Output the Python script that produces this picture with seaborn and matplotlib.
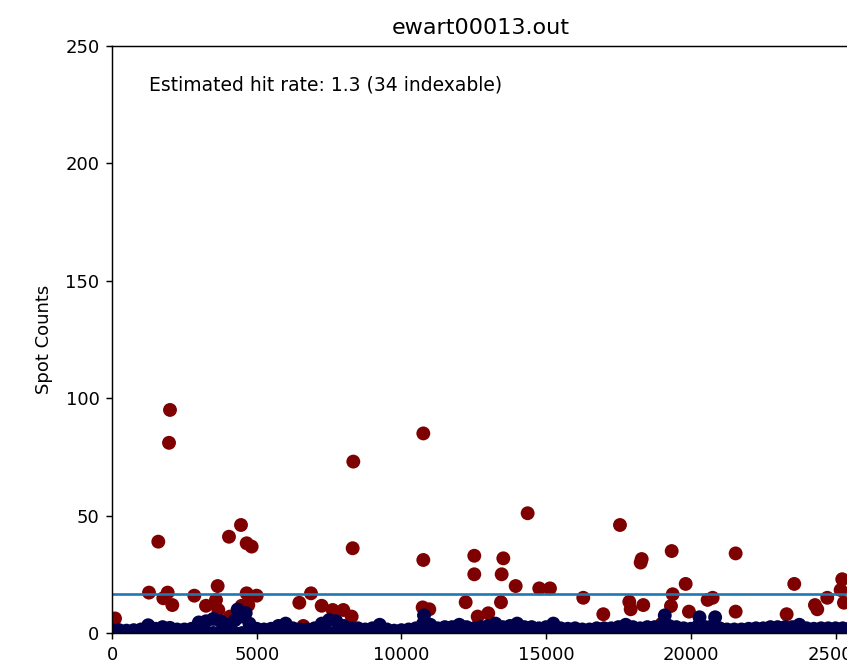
import matplotlib
matplotlib.use("Agg")
import matplotlib.pyplot as plt
import seaborn as sns
import pandas as pd

# ---- data ----
title = "ewart00013.out"
ylabel = "Spot Counts"
note = "Estimated hit rate: 1.3 (34 indexable)"
threshold = 16.4
n_frames = 25500

# low-count (non-hit) frames: upper envelope of the dense band, every 250 frames
low_frames = list(range(0, 25501, 250))
low_counts = [1.2, 1.2, 1.0, 1.2, 1.5, 3.3, 1.8, 2.5, 2.2, 1.5,
              1.5, 1.8, 4.5, 5.0, 6.0, 5.0, 3.5, 5.5, 7.0, 4.0,
              1.8, 1.5, 1.8, 3.0, 4.0, 2.0, 1.5, 1.5, 2.0, 4.0,
              5.5, 5.0, 3.0, 2.0, 2.0, 1.5, 2.0, 3.5, 1.5, 1.0,
              1.2, 1.5, 2.0, 4.0, 3.5, 2.0, 2.5, 2.5, 3.5, 2.5,
              2.0, 2.5, 3.0, 4.0, 2.5, 3.0, 4.0, 2.5, 2.5, 2.0,
              2.5, 4.0, 2.0, 1.8, 2.0, 1.5, 1.5, 2.0, 2.0, 2.0,
              2.5, 3.5, 2.5, 2.0, 2.5, 2.5, 3.0, 3.0, 2.5, 2.0,
              1.8, 3.0, 2.5, 3.0, 2.0, 1.5, 1.5, 1.5, 1.8, 2.0,
              2.0, 2.5, 2.5, 2.5, 2.5, 3.5, 2.0, 1.8, 2.0, 2.0,
              2.0, 2.0, 2.0]
# frames with zero spots along the whole run (bottom of the band)
zero_frames = list(range(0, 25501, 250))
zero_counts = [0.0] * len(zero_frames)
# isolated non-hit frames standing above the band
low_extra_frames = [4340, 4620, 10780, 19100, 20300, 20840]
low_extra_counts = [10.0, 8.5, 7.5, 7.5, 6.7, 6.7]

# hit frames
hit_frames = [2004, 1970, 8338, 1600, 4457, 4042, 4653, 4826, 8316, 1278,
              1923, 1773, 2084, 2844, 3651, 3248, 3593, 3674, 4653, 5000,
              4480, 4710, 4077, 104, 6472, 6876, 7245, 7625, 7993, 8281,
              10757, 10757, 14362, 12518, 12518, 13521, 13464, 13948, 14763, 15133,
              16284, 10734, 10964, 12220, 13440, 12635, 13001,
              17552, 18302, 18267, 19339, 21549, 19822, 23574, 19373, 19314,
              17874, 17922, 18357, 16976, 19935, 20581, 20754, 21549, 23311,
              24289, 24369, 24714, 25232, 25176, 25291, 19000, 6610]
hit_counts = [95.0, 81.0, 73.0, 38.9, 46.0, 41.0, 38.2, 36.8, 36.1, 17.2,
              17.2, 14.8, 11.9, 15.9, 20.0, 11.6, 14.1, 9.8, 16.9, 15.9,
              11.6, 11.9, 7.0, 6.2, 12.9, 16.9, 11.6, 9.8, 9.8, 7.0,
              85.0, 31.1, 51.0, 32.9, 25.0, 31.8, 25.0, 20.0, 19.0, 19.0,
              15.0, 10.9, 10.1, 13.1, 13.1, 7.0, 8.4,
              46.0, 31.5, 30.0, 34.9, 33.9, 20.9, 20.9, 16.5, 11.5,
              13.3, 10.1, 11.9, 8.0, 9.1, 14.1, 15.0, 9.1, 8.0,
              11.9, 10.1, 15.0, 22.9, 18.3, 12.9, 4.0, 3.0]

hits = pd.DataFrame({"frame": hit_frames, "count": hit_counts, "kind": "hit"})
lows = pd.DataFrame({"frame": low_frames + zero_frames + low_extra_frames,
                     "count": low_counts + zero_counts + low_extra_counts,
                     "kind": "low"})
df = pd.concat([hits, lows], ignore_index=True)

palette = {"hit": "#7f0000", "low": "#00004c"}

fig = plt.figure(figsize=(8.47, 6.61), dpi=100)
ax = fig.add_axes([112 / 847, 28 / 661, 738 / 847, 587 / 661])

sns.scatterplot(data=df, x="frame", y="count", hue="kind", palette=palette,
                s=100, linewidth=0, legend=False, ax=ax)
ax.axhline(threshold, color="#1f77b4", linewidth=1.9)

ax.set_xlim(0, n_frames)
ax.set_ylim(0, 250)
ax.set_xticks([0, 5000, 10000, 15000, 20000, 25000])
ax.set_yticks([0, 50, 100, 150, 200, 250])
ax.set_xlabel("")
ax.set_ylabel(ylabel, fontsize=13, labelpad=9)
ax.set_title(title, fontsize=16, pad=9)
ax.tick_params(labelsize=13, length=4.5, width=1.05, pad=4.5)
for sp in ax.spines.values():
    sp.set_linewidth(1.05)
ax.text(0.05, 0.933, note, transform=ax.transAxes, ha="left", va="center",
        fontsize=13.5)

fig.savefig("out.png", dpi=100)
